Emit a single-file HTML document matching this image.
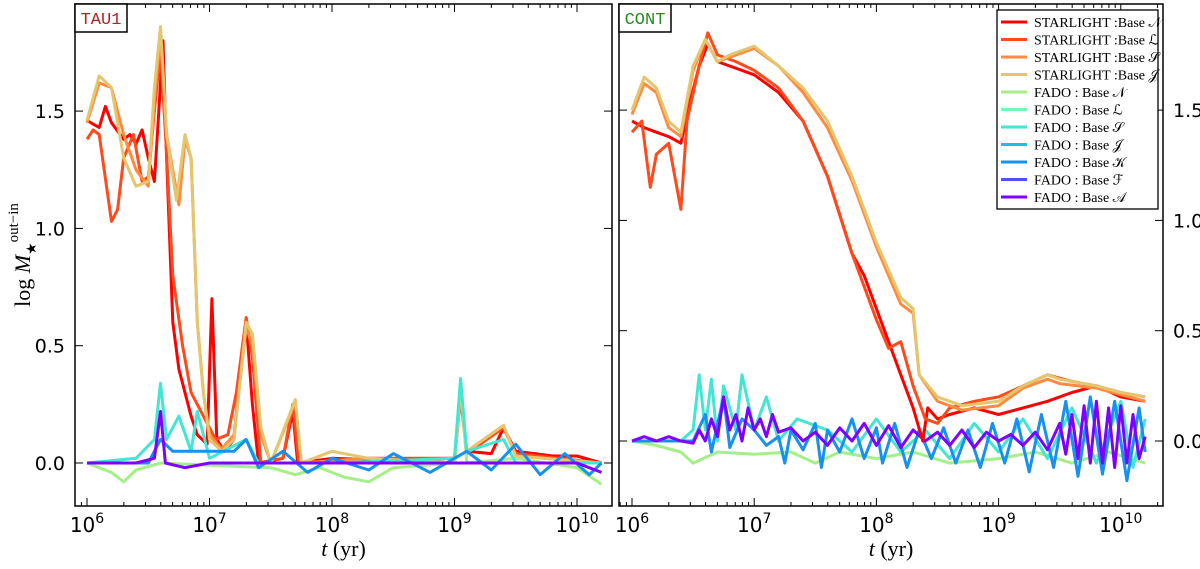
<!DOCTYPE html>
<html><head><meta charset="utf-8">
<style>
html,body{margin:0;padding:0;background:#fff;}
svg{display:block;font-family:"DejaVu Sans","Liberation Sans",sans-serif;}
</style></head>
<body>
<svg id="chart" width="1200" height="569" viewBox="0 0 1200 569" xmlns="http://www.w3.org/2000/svg"></svg>
<script>
// ---- data (log10 t, log M) ----
const seriesNames = ["STARLIGHT :Base N","STARLIGHT :Base L","STARLIGHT :Base S","STARLIGHT :Base J","FADO : Base N","FADO : Base L","FADO : Base S","FADO : Base J","FADO : Base K","FADO : Base F","FADO : Base A"];
const seriesColors = ["#ff0000","#ff4a1c","#ff8a40","#e3c66e","#a4ef88","#72f8b4","#42e6d2","#22bce8","#1890f0","#4a52f8","#8000ff"];
const xTicks = [6,7,8,9,10];
const yTicksLeft = [0,0.5,1.0,1.5];
const yTicksRight = [0,0.5,1.0,1.5];

// TAU1 panel
const tauRedN = [[6,1.46],[6.1,1.43],[6.15,1.52],[6.2,1.45],[6.3,1.38],[6.35,1.4],[6.4,1.36],[6.45,1.42],[6.5,1.3],[6.55,1.2],[6.58,1.45],[6.62,1.8],[6.65,1.3],[6.7,0.6],[6.75,0.4],[6.8,0.3],[6.85,0.2],[6.9,0.12],[6.98,0.08],[7.02,0.7],[7.06,0.1],[7.12,0.05],[7.2,0.1],[7.27,0.5],[7.3,0.6],[7.35,0.25],[7.4,0.0],[7.6,0.02],[7.68,0.22],[7.72,0.0],[8.0,0.02],[8.5,0.01],[9.0,0.02],[9.05,0.3],[9.1,0.05],[9.3,0.04],[9.4,0.15],[9.5,0.05],[9.8,0.03],[10.0,0.03],[10.2,0.0]];
const tauOrangeL = [[6,1.38],[6.05,1.42],[6.1,1.4],[6.2,1.03],[6.25,1.08],[6.3,1.3],[6.38,1.4],[6.45,1.2],[6.5,1.22],[6.55,1.5],[6.6,1.76],[6.65,1.32],[6.7,0.8],[6.78,0.5],[6.85,0.3],[6.95,0.2],[7.05,0.1],[7.15,0.12],[7.22,0.3],[7.3,0.62],[7.35,0.45],[7.42,0.0],[7.6,0.02],[7.68,0.25],[7.73,0.0],[8.3,0.02],[9.0,0.02],[9.05,0.28],[9.1,0.04],[9.4,0.15],[9.5,0.04],[10.2,0.0]];
const tauOrangeS = [[6,1.45],[6.1,1.62],[6.2,1.6],[6.3,1.4],[6.4,1.25],[6.5,1.18],[6.55,1.55],[6.6,1.82],[6.65,1.4],[6.75,1.1],[6.8,1.38],[6.85,1.3],[6.9,0.6],[6.95,0.3],[7.0,0.12],[7.1,0.06],[7.2,0.12],[7.3,0.58],[7.35,0.5],[7.42,0.12],[7.5,0.0],[7.7,0.26],[7.75,0.0],[8.3,0.02],[9.0,0.0],[9.05,0.3],[9.1,0.05],[9.4,0.16],[9.5,0.03],[10.2,0.0]];
const tauYellowJ = [[6,1.46],[6.1,1.65],[6.2,1.6],[6.3,1.3],[6.4,1.18],[6.5,1.2],[6.55,1.6],[6.6,1.86],[6.65,1.4],[6.73,1.12],[6.8,1.4],[6.85,1.3],[6.9,0.6],[6.95,0.3],[7.0,0.1],[7.1,0.05],[7.2,0.1],[7.3,0.6],[7.35,0.55],[7.42,0.15],[7.5,0.0],[7.7,0.27],[7.75,0.0],[8.0,0.05],[8.3,0.02],[9.0,0.0],[9.05,0.32],[9.1,0.05],[9.4,0.16],[9.5,0.03],[10.2,0.0]];
const tauFadoN = [[6,0],[6.2,-0.04],[6.3,-0.08],[6.4,-0.03],[6.6,0],[7.0,-0.01],[7.5,-0.02],[7.7,-0.05],[7.9,-0.02],[8.1,-0.06],[8.3,-0.08],[8.5,-0.02],[9.0,0.0],[9.05,0.35],[9.1,0.0],[9.5,0.02],[10.0,-0.02],[10.2,-0.09]];
const tauFadoS = [[6,0],[6.4,0.02],[6.55,0.1],[6.6,0.34],[6.65,0.1],[6.75,0.2],[6.85,0.05],[6.9,0.22],[7.0,0.02],[7.3,0.1],[7.4,0.0],[8.0,0.0],[9.0,0.02],[9.05,0.36],[9.1,0.05],[9.4,0.1],[9.5,0.0],[10.2,0.0]];
const tauFadoK = [[6,0],[6.5,0.0],[6.6,0.1],[6.7,0.05],[7.2,0.05],[7.3,0.1],[7.4,-0.02],[7.6,0.05],[7.8,-0.04],[8.0,0.02],[8.3,-0.03],[8.5,0.04],[8.8,-0.04],[9.1,0.05],[9.3,-0.03],[9.5,0.08],[9.7,-0.05],[9.9,0.04],[10.1,-0.05],[10.2,0.0]];
const tauFadoA = [[6,0],[6.4,0.0],[6.55,0.02],[6.6,0.22],[6.64,0.0],[6.8,-0.02],[7.0,0.0],[8.0,0.0],[9.0,0.0],[10.0,0.0],[10.2,-0.04]];

// CONT panel
const contRedN = [[6,1.45],[6.1,1.42],[6.2,1.4],[6.3,1.38],[6.4,1.35],[6.48,1.55],[6.55,1.7],[6.62,1.8],[6.7,1.72],[6.8,1.7],[7.0,1.66],[7.2,1.58],[7.4,1.45],[7.6,1.2],[7.8,0.85],[7.9,0.75],[8.0,0.6],[8.1,0.45],[8.2,0.3],[8.3,0.15],[8.38,0.0],[8.42,0.15],[8.5,0.1],[8.6,0.12],[8.8,0.15],[9.0,0.12],[9.2,0.15],[9.4,0.18],[9.6,0.22],[9.8,0.25],[10.0,0.2],[10.2,0.18]];
const contOrangeL = [[6,1.4],[6.08,1.45],[6.15,1.15],[6.2,1.3],[6.3,1.35],[6.4,1.05],[6.45,1.45],[6.55,1.7],[6.62,1.85],[6.7,1.75],[6.85,1.72],[7.0,1.68],[7.2,1.6],[7.4,1.45],[7.6,1.2],[7.8,0.85],[8.0,0.55],[8.1,0.42],[8.2,0.45],[8.3,0.25],[8.4,0.1],[8.5,0.08],[8.6,0.15],[8.8,0.18],[9.0,0.2],[9.2,0.25],[9.4,0.3],[9.6,0.27],[9.8,0.25],[10.0,0.22],[10.2,0.2]];
const contOrangeS = [[6,1.48],[6.1,1.62],[6.2,1.58],[6.3,1.42],[6.4,1.38],[6.5,1.68],[6.6,1.82],[6.7,1.72],[6.8,1.74],[7.0,1.78],[7.2,1.7],[7.4,1.58],[7.6,1.42],[7.8,1.18],[8.0,0.88],[8.2,0.62],[8.3,0.58],[8.35,0.3],[8.5,0.18],[8.7,0.14],[9.0,0.16],[9.2,0.24],[9.4,0.28],[9.5,0.26],[9.8,0.24],[10.2,0.18]];
const contYellowJ = [[6,1.5],[6.1,1.65],[6.2,1.6],[6.3,1.45],[6.4,1.4],[6.5,1.7],[6.6,1.82],[6.7,1.72],[6.8,1.75],[7.0,1.79],[7.2,1.7],[7.4,1.6],[7.6,1.45],[7.8,1.2],[8.0,0.9],[8.2,0.65],[8.3,0.6],[8.35,0.3],[8.5,0.2],[8.7,0.16],[9.0,0.18],[9.2,0.25],[9.4,0.3],[9.5,0.28],[9.8,0.25],[10.0,0.22],[10.2,0.2]];
const contFadoN = [[6,0],[6.2,-0.02],[6.4,-0.05],[6.5,-0.1],[6.7,-0.05],[7.0,-0.06],[7.3,-0.05],[7.5,-0.1],[7.7,-0.05],[8.0,-0.08],[8.3,-0.05],[8.6,-0.1],[9.0,-0.08],[9.3,-0.05],[9.6,-0.1],[9.9,-0.05],[10.2,-0.1]];
const contFadoS = [[6,0],[6.4,0.0],[6.5,0.05],[6.55,0.3],[6.6,0.05],[6.65,0.28],[6.7,0.0],[6.75,0.25],[6.85,0.05],[6.9,0.3],[7.0,0.05],[7.1,0.2],[7.2,0.0],[7.35,0.1],[7.6,0.05],[7.8,-0.05],[8.0,0.1],[8.2,-0.05],[8.4,0.05],[8.6,-0.08],[8.8,0.08],[9.0,-0.05],[9.2,0.1],[9.4,-0.08],[9.6,0.15],[9.8,-0.1],[10.0,0.18],[10.1,-0.12],[10.2,0.1]];
const contFadoK = [[6,0],[6.5,0.0],[6.6,0.12],[6.65,-0.05],[6.75,0.2],[6.8,-0.03],[6.9,0.1],[7.0,0.05],[7.1,-0.02],[7.2,0.02],[7.25,-0.1],[7.3,0.05],[7.4,-0.04],[7.5,0.08],[7.55,-0.12],[7.6,0.05],[7.7,-0.05],[7.8,0.1],[7.9,-0.08],[8.0,0.06],[8.05,-0.1],[8.15,0.08],[8.25,-0.12],[8.35,0.05],[8.45,-0.08],[8.55,0.06],[8.65,-0.1],[8.75,0.05],[8.85,-0.12],[8.95,0.08],[9.05,-0.1],[9.15,0.1],[9.25,-0.14],[9.35,0.12],[9.45,-0.12],[9.55,0.18],[9.65,-0.16],[9.75,0.2],[9.85,-0.15],[9.95,0.18],[10.05,-0.18],[10.15,0.15],[10.2,-0.05]];
const contFadoA = [[6,0],[6.1,0.02],[6.2,0.0],[6.3,0.02],[6.4,0.0],[6.5,-0.01],[6.55,0.05],[6.6,0.0],[6.65,0.1],[6.7,0.02],[6.75,0.2],[6.8,0.05],[6.85,0.12],[6.9,0.0],[6.95,0.15],[7.0,0.05],[7.05,0.1],[7.1,0.02],[7.15,0.12],[7.2,0.04],[7.3,0.06],[7.4,0.0],[7.5,0.04],[7.6,-0.02],[7.7,0.06],[7.8,0.0],[7.9,0.08],[8.0,-0.02],[8.1,0.07],[8.2,-0.03],[8.3,0.05],[8.4,0.0],[8.5,0.04],[8.6,-0.02],[8.7,0.05],[8.8,-0.03],[8.9,0.04],[9.0,0.0],[9.1,0.03],[9.2,-0.02],[9.3,0.04],[9.4,-0.04],[9.5,0.08],[9.55,-0.06],[9.6,0.12],[9.65,-0.08],[9.7,0.16],[9.75,-0.1],[9.8,0.18],[9.85,-0.1],[9.9,0.15],[9.95,-0.12],[10.0,0.16],[10.05,-0.1],[10.1,0.12],[10.15,-0.08],[10.2,0.02]];

// ---- layout ----
const NS="http://www.w3.org/2000/svg";
const svg=document.getElementById('chart');
function mk(tag,attrs,parent){const e=document.createElementNS(NS,tag);for(const k in attrs)e.setAttribute(k,attrs[k]);(parent||svg).appendChild(e);return e;}
const panels=[
 {name:'tau1',x0:75,x1:612,y0:4,y1:506,dec0:87,decW:122.5,yZero:463,yPer:234.6,label:'TAU1',labelColor:'#b22222',axisRight:false,
  series:[[0,tauRedN],[1,tauOrangeL],[2,tauOrangeS],[3,tauYellowJ],[4,tauFadoN],[6,tauFadoS],[8,tauFadoK],[10,tauFadoA]]},
 {name:'cont',x0:619,x1:1163,y0:4,y1:506,dec0:632,decW:122.2,yZero:441,yPer:220.6,label:'CONT',labelColor:'#228b22',axisRight:true,
  series:[[4,contFadoN],[6,contFadoS],[8,contFadoK],[10,contFadoA],[0,contRedN],[1,contOrangeL],[2,contOrangeS],[3,contYellowJ]]}
];
panels.forEach(p=>{
  const sx=v=>p.dec0+(v-6)*p.decW;
  const sy=v=>p.yZero-v*p.yPer;
  const g=mk('g',{});
  
  
  const clipId='clip-'+p.name;
  const cp=mk('clipPath',{id:clipId},g);mk('rect',{x:p.x0,y:p.y0,width:p.x1-p.x0,height:p.y1-p.y0},cp);
  const lines=mk('g',{'clip-path':'url(#'+clipId+')'},g);
  p.series.forEach(([ci,data])=>{
    const d=data.map((pt,i)=>(i?'L':'M')+sx(pt[0]).toFixed(1)+','+sy(pt[1]).toFixed(1)).join(' ');
    const path=mk('path',{d:d,fill:'none',stroke:seriesColors[ci],'stroke-width':3,'stroke-linejoin':'round'},lines);
    
    
  });
  const fr=mk('rect',{x:p.x0,y:p.y0,width:p.x1-p.x0,height:p.y1-p.y0,fill:'none',stroke:'#000','stroke-width':1.5},g);
  
  
  for(let dec=5;dec<=10;dec++){
    for(let m=1;m<10;m++){
      const v=dec+Math.log10(m);const x=sx(v);
      if(x<p.x0+1||x>p.x1-1)continue;
      const L=m===1?8:4;
      mk('line',{x1:x,x2:x,y1:p.y1,y2:p.y1-L,stroke:'#000','stroke-width':1},g);
      mk('line',{x1:x,x2:x,y1:p.y0,y2:p.y0+L,stroke:'#000','stroke-width':1},g);
    }
  }
  xTicks.forEach(v=>{
    const t=mk('text',{x:sx(v),y:p.y1+26,'text-anchor':'middle','font-size':20},g);
    
    
    t.innerHTML='10<tspan dy="-9" font-size="14">'+v+'</tspan>';
  });
  const yt=p.axisRight?yTicksRight:yTicksLeft;
  yt.forEach(v=>{
    const y=sy(v);
    mk('line',{x1:p.x0,x2:p.x0+8,y1:y,y2:y,stroke:'#000','stroke-width':1},g);
    mk('line',{x1:p.x1,x2:p.x1-8,y1:y,y2:y,stroke:'#000','stroke-width':1},g);
    const t=mk('text',{x:p.axisRight?p.x1+10:p.x0-10,y:y+7,'text-anchor':p.axisRight?'start':'end','font-size':19},g);
    
    
    t.textContent=v.toFixed(1);
  });
  const lb=mk('g',{},g);
  
  
  mk('rect',{x:p.x0,y:p.y0,width:52,height:28,fill:'#fff',stroke:'#000','stroke-width':1.5},lb);
  const lt=mk('text',{x:p.x0+26,y:p.y0+20,'text-anchor':'middle','font-size':17,fill:p.labelColor,'font-family':'Liberation Mono, monospace'},lb);
  lt.textContent=p.label;
  const xl=mk('text',{x:(p.x0+p.x1)/2,y:556,'text-anchor':'middle','font-size':22,'font-family':'Liberation Serif, serif'},g);
  
  
  xl.innerHTML='<tspan font-style="italic">t</tspan> (yr)';
});
const yl=mk('text',{x:0,y:0,transform:'translate(30,255) rotate(-90)','text-anchor':'middle','font-size':22,'font-family':'Liberation Serif, serif'});


yl.innerHTML='log <tspan font-style="italic">M</tspan><tspan dy="6" font-size="14">★</tspan><tspan dy="-18" font-size="15">out−in</tspan>';
const lg=mk('g',{});


mk('rect',{x:997,y:10,width:161,height:199,fill:'#fff',stroke:'#000','stroke-width':1.3},lg);
const legendLabels=['STARLIGHT :Base 𝒩','STARLIGHT :Base ℒ','STARLIGHT :Base 𝒮','STARLIGHT :Base 𝒥','FADO : Base 𝒩','FADO : Base ℒ','FADO : Base 𝒮','FADO : Base 𝒥','FADO : Base 𝒦','FADO : Base ℱ','FADO : Base 𝒜'];
legendLabels.forEach((lab,i)=>{
  const y=22+i*17.5;
  const e=mk('g',{},lg);
  
  
  mk('line',{x1:1001,x2:1027,y1:y,y2:y,stroke:seriesColors[i],'stroke-width':3},e);
  const t=mk('text',{x:1034,y:y+5,'font-size':14,'font-family':'Liberation Serif, DejaVu Serif, serif'},e);
  t.textContent=lab;
});
</script>
</body></html>
